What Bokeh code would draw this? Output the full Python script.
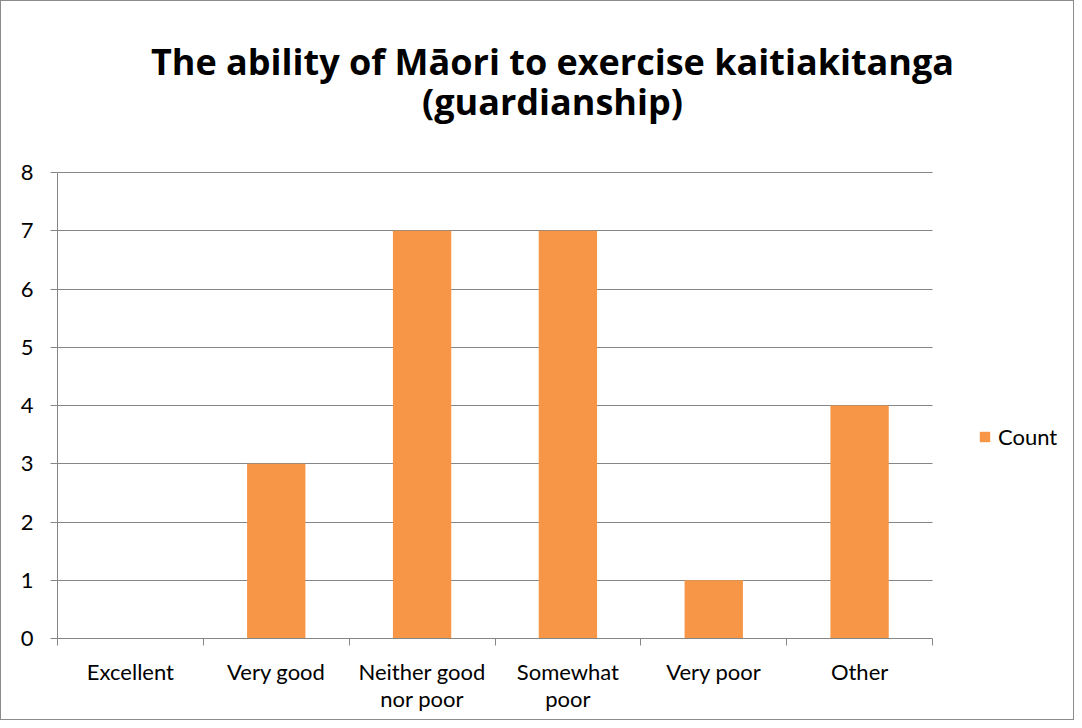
from bokeh.plotting import figure
from bokeh.models import (ColumnDataSource, FixedTicker, Range1d, Label, Legend, LegendItem, Grid)
from bokeh.embed import file_html
from bokeh.resources import INLINE

categories = ["Excellent", "Very good", "Neither good nor poor", "Somewhat poor", "Very poor", "Other"]
tick_labels = ["Excellent", "Very good", "Neither good\nnor poor", "Somewhat\npoor", "Very poor", "Other"]
counts = [0, 3, 7, 7, 1, 4]
y_ticks = [0, 1, 2, 3, 4, 5, 6, 7, 8]
series_name = "Count"
title_lines = ["The ability of Māori to exercise kaitiakitanga", "(guardianship)"]

FONT = "Lato"
TFONT = "Open Sans"
GRID = "#868686"
BAR = "#F79646"

W, H = 1074, 720
# plot-area edges in canvas pixels (the 1px CSS border shifts the canvas by one pixel)
FL, FT, FR, FB = 56, 171, 931, 637
n = len(categories)
y_max = y_ticks[-1]
# the frame spans to the right and top edges; the category/value area fills FL..FR, FT..FB
x_end = n * (W - FL) / (FR - FL)
y_end = y_max * FB / (FB - FT)

xs = [i + 0.5 for i in range(n)]
src = ColumnDataSource(dict(x=xs, top=counts, cat=categories))

p = figure(width=W, height=H, output_backend="svg", toolbar_location=None,
           x_range=Range1d(0, x_end), y_range=Range1d(0, y_end),
           min_border_left=FL, min_border_right=0, min_border_top=0, min_border_bottom=H - FB)
p.outline_line_color = None
p.background_fill_color = "white"
p.border_fill_color = "white"
p.styles = {"border": "1px solid #8c8c8c"}
p.title.visible = False

r = p.vbar(x="x", top="top", width=0.4, source=src, fill_color=BAR, line_color=None)

# y axis
p.yaxis.bounds = (0, y_max)
p.yaxis.ticker = FixedTicker(ticks=y_ticks)
p.yaxis.axis_line_color = GRID
p.yaxis.major_tick_line_color = GRID
p.yaxis.major_tick_out = 7
p.yaxis.major_tick_in = 0
p.yaxis.minor_tick_line_color = None
p.yaxis.major_label_text_font = FONT
p.yaxis.major_label_text_font_size = "22px"
p.yaxis.major_label_text_color = "black"
p.yaxis.major_label_standoff = 17
p.ygrid.grid_line_color = GRID
p.ygrid.ticker = FixedTicker(ticks=y_ticks)
if "cross_bounds" in Grid.properties():
    p.ygrid.cross_bounds = (0, n)

# x axis
p.xaxis.bounds = (0, n)
p.xaxis.ticker = FixedTicker(ticks=xs, minor_ticks=list(range(0, n + 1)))
p.xaxis.major_label_overrides = {x: lab for x, lab in zip(xs, tick_labels)}
p.xaxis.axis_line_color = GRID
p.xaxis.major_tick_line_color = None
p.xaxis.major_tick_out = 0
p.xaxis.major_tick_in = 0
p.xaxis.minor_tick_line_color = GRID
p.xaxis.minor_tick_out = 7
p.xaxis.minor_tick_in = 0
p.xaxis.major_label_text_font = FONT
p.xaxis.major_label_text_font_size = "22px"
p.xaxis.major_label_text_line_height = 1.0
p.xaxis.major_label_text_color = "black"
p.xaxis.major_label_standoff = 12
p.xgrid.grid_line_color = None

# title: one centred label per line (screen units relative to the frame)
for t, ty in zip(title_lines, [61, 101]):
    p.add_layout(Label(x=552 - 1 - FL, y=FB + 1 - ty, x_units="screen", y_units="screen", text=t,
                       text_font=TFONT, text_font_style="bold", text_font_size="36px",
                       text_align="center", text_baseline="middle", text_color="black"))

legend = Legend(items=[LegendItem(label=series_name, renderers=[r])],
                location=(977 - FL, FB - 449),
                border_line_color=None, background_fill_alpha=0,
                label_text_font=FONT, label_text_font_size="22px", label_text_color="black",
                glyph_width=13, glyph_height=13, label_standoff=7, padding=0, margin=0)
p.add_layout(legend, "center")

open("out.html", "w").write(file_html(p, INLINE))
